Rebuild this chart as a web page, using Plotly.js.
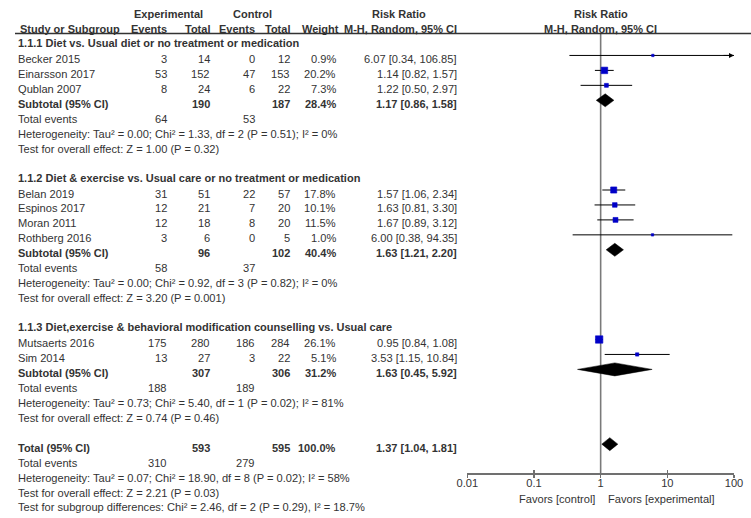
<!DOCTYPE html>
<html><head><meta charset="utf-8">
<script src="https://cdn.plot.ly/plotly-3.0.1.min.js"></script>
<style>html,body{margin:0;padding:0;background:#fff}</style>
</head><body><div id="chart" style="width:751px;height:518px"></div>
<script>
// ---------- data ----------
const studyNames = ["Becker 2015","Einarsson 2017","Qublan 2007","Belan 2019","Espinos 2017","Moran 2011","Rothberg 2016","Mutsaerts 2016","Sim 2014"];
const studyGroup = [0,0,0,1,1,1,1,2,2];
const expEvents = [3,53,8,31,12,12,3,175,13];
const expTotal  = [14,152,24,51,21,18,6,280,27];
const ctlEvents = [0,47,6,22,7,8,0,186,3];
const ctlTotal  = [12,153,22,57,20,20,5,284,22];
const weights   = [0.9,20.2,7.3,17.8,10.1,11.5,1.0,26.1,5.1];
const rrEst  = [6.07,1.14,1.22,1.57,1.63,1.67,6.00,0.95,3.53];
const rrLow  = [0.34,0.82,0.50,1.06,0.81,0.89,0.38,0.84,1.15];
const rrHigh = [106.85,1.57,2.97,2.34,3.30,3.12,94.35,1.08,10.84];

const groupTitles = [
  "1.1.1 Diet vs. Usual diet or no treatment or medication",
  "1.1.2 Diet & exercise vs. Usual care or no treatment or medication",
  "1.1.3 Diet,exercise & behavioral modification counselling vs. Usual care"
];
const subExpTotal = [190,96,307];
const subCtlTotal = [187,102,306];
const subWeight = [28.4,40.4,31.2];
const subEst  = [1.17,1.63,1.63];
const subLow  = [0.86,1.21,0.45];
const subHigh = [1.58,2.20,5.92];
const subExpEvents = [64,58,188];
const subCtlEvents = [53,37,189];
const subHet = [
  "Heterogeneity: Tau² = 0.00; Chi² = 1.33, df = 2 (P = 0.51); I² = 0%",
  "Heterogeneity: Tau² = 0.00; Chi² = 0.92, df = 3 (P = 0.82); I² = 0%",
  "Heterogeneity: Tau² = 0.73; Chi² = 5.40, df = 1 (P = 0.02); I² = 81%"
];
const subZ = ["Test for overall effect: Z = 1.00 (P = 0.32)","Test for overall effect: Z = 3.20 (P = 0.001)","Test for overall effect: Z = 0.74 (P = 0.46)"];

const totalExpTotal = 593, totalCtlTotal = 595, totalWeight = 100.0;
const totalEst = 1.37, totalLow = 1.04, totalHigh = 1.81;
const totalExpEvents = 310, totalCtlEvents = 279;
const totalHet = "Heterogeneity: Tau² = 0.07; Chi² = 18.90, df = 8 (P = 0.02); I² = 58%";
const totalZ = "Test for overall effect: Z = 2.21 (P = 0.03)";
const subgroupDiff = "Test for subgroup differences: Chi² = 2.46, df = 2 (P = 0.29), I² = 18.7%";

const axisTicks = [0.01,0.1,1,10,100];
const axisTickText = ["0.01","0.1","1","10","100"];
const favorsLeft = "Favors [control]", favorsRight = "Favors [experimental]";

// ---------- layout constants ----------
const W = 751, H = 518;
const FS = 11.1, FSB = 11, FONT = "Liberation Sans, Arial, sans-serif", TXT = "#333333";
const colLabel = 16, colExpEv = 169, colExpTot = 211.5, colCtlEv = 257, colCtlTot = 291.5, colWeight = 337.5, colRR = 458.5;
const rowBase = 44, rowStep = 14.95, markShift = -3.5;
const rowY = i => rowBase + i * rowStep;
const axMin = 0.01, axMax = 100;

const ann = [];
function t(xpx, y, text, anchor, bold) {
  ann.push({xref:'paper', yref:'y', x:xpx / W, y:y, text: bold ? '<b>'+text+'</b>' : text,
    showarrow:false, xanchor:anchor, yanchor:'middle',
    font:{family:FONT, size: bold ? FSB : FS, color:TXT}});
}
const rr = (e,l,h) => e.toFixed(2)+' ['+l.toFixed(2)+', '+h.toFixed(2)+']';

// headers
t(168.5, 14, "Experimental", 'center', true);
t(252, 14, "Control", 'center', true);
t(399, 14, "Risk Ratio", 'center', true);
t(600.5, 14, "Risk Ratio", 'center', true);
t(colLabel+2, 28.5, "Study or Subgroup", 'left', true);
t(colExpEv, 28.5, "Events", 'right', true);
t(colExpTot, 28.5, "Total", 'right', true);
t(colCtlEv, 28.5, "Events", 'right', true);
t(colCtlTot, 28.5, "Total", 'right', true);
t(colWeight+3, 28.5, "Weight", 'right', true);
t(colRR, 28.5, "M-H, Random, 95% CI", 'right', true);
t(600.5, 28.5, "M-H, Random, 95% CI", 'center', true);

const ciX = [], ciY = [], sqX = [], sqY = [], sqS = [];
const diamonds = [];
const arrows = [];
let idx = 0;
for (let g = 0; g < groupTitles.length; g++) {
  t(colLabel, rowY(idx) - 1, groupTitles[g], 'left', true); idx++;
  for (let s = 0; s < studyNames.length; s++) {
    if (studyGroup[s] !== g) continue;
    const y = rowY(idx);
    t(colLabel, y, studyNames[s], 'left');
    t(colExpEv, y, String(expEvents[s]), 'right');
    t(colExpTot, y, String(expTotal[s]), 'right');
    t(colCtlEv, y, String(ctlEvents[s]), 'right');
    t(colCtlTot, y, String(ctlTotal[s]), 'right');
    t(colWeight, y, weights[s].toFixed(1)+'%', 'right');
    t(colRR, y, rr(rrEst[s], rrLow[s], rrHigh[s]), 'right');
    const my = y + markShift;
    const hi = Math.min(rrHigh[s], axMax), lo = Math.max(rrLow[s], axMin);
    ciX.push(lo, hi, null); ciY.push(my, my, null);
    if (rrHigh[s] > axMax) arrows.push(my);
    sqX.push(rrEst[s]); sqY.push(my); sqS.push(Math.max(2.4, 1.45*Math.sqrt(weights[s])));
    idx++;
  }
  let y = rowY(idx);
  t(colLabel, y, "Subtotal (95% CI)", 'left', true);
  t(colExpTot, y, String(subExpTotal[g]), 'right', true);
  t(colCtlTot, y, String(subCtlTotal[g]), 'right', true);
  t(colWeight, y, subWeight[g].toFixed(1)+'%', 'right', true);
  t(colRR, y, rr(subEst[g], subLow[g], subHigh[g]), 'right', true);
  diamonds.push([subLow[g], subEst[g], subHigh[g], y + markShift]);
  idx++;
  y = rowY(idx);
  t(colLabel, y, "Total events", 'left');
  t(colExpEv, y, String(subExpEvents[g]), 'right');
  t(colCtlEv, y, String(subCtlEvents[g]), 'right');
  idx++;
  t(colLabel, rowY(idx), subHet[g], 'left'); idx++;
  t(colLabel, rowY(idx), subZ[g], 'left'); idx++;
  idx++; // blank
}
let y = rowY(idx);
t(colLabel, y, "Total (95% CI)", 'left', true);
t(colExpTot, y, String(totalExpTotal), 'right', true);
t(colCtlTot, y, String(totalCtlTotal), 'right', true);
t(colWeight, y, totalWeight.toFixed(1)+'%', 'right', true);
t(colRR, y, rr(totalEst, totalLow, totalHigh), 'right', true);
diamonds.push([totalLow, totalEst, totalHigh, y + markShift]);
idx++;
y = rowY(idx);
t(colLabel, y, "Total events", 'left');
t(colExpEv, y, String(totalExpEvents), 'right');
t(colCtlEv, y, String(totalCtlEvents), 'right');
idx++;
t(colLabel, rowY(idx), totalHet, 'left'); idx++;
t(colLabel, rowY(idx), totalZ, 'left'); idx++;
t(colLabel, rowY(idx), subgroupDiff, 'left'); idx++;

// favors labels
ann.push({xref:'x', yref:'y', x:0, y:499, text:favorsLeft, showarrow:false, xanchor:'right', xshift:-4,
  font:{family:FONT, size:FS, color:TXT}});
ann.push({xref:'x', yref:'y', x:0, y:499, text:favorsRight, showarrow:false, xanchor:'left', xshift:5,
  font:{family:FONT, size:FS, color:TXT}});
// arrows for truncated CIs (annotation x is log10 on log axis)
arrows.forEach(my => ann.push({xref:'x', yref:'y', x:Math.log10(axMax), y:my, ax:-12, ay:0, text:'',
  showarrow:true, arrowhead:2, arrowsize:1, arrowwidth:1, arrowcolor:'#000', standoff:0}));

const axisY = 473.3;
const traces = [];
traces.push({x:[1,1], y:[34, axisY], mode:'lines', line:{color:'#7a7a7a', width:1.6}, hoverinfo:'skip', showlegend:false});
traces.push({x:ciX, y:ciY, mode:'lines', line:{color:'#000', width:1}, hoverinfo:'skip', showlegend:false});
traces.push({x:sqX, y:sqY, mode:'markers', opacity:1, marker:{symbol:'square', size:sqS, color:'#0000c8', opacity:1, line:{width:0.6, color:'#0000c8'}}, hoverinfo:'skip', showlegend:false});
diamonds.forEach(d => traces.push({x:[d[0], d[1], d[2], d[1], d[0]], y:[d[3], d[3]-6.5, d[3], d[3]+6.5, d[3]],
  mode:'lines', fill:'toself', fillcolor:'#000', line:{color:'#000', width:0.5}, hoverinfo:'skip', showlegend:false}));
traces.push({x:[1], y:[0], xaxis:'x2', mode:'markers', marker:{opacity:0}, hoverinfo:'skip', showlegend:false});

const dom = [467.3/W, 734/W];
const axPos = (H - axisY)/H;
const layout = {
  width:W, height:H, margin:{l:0,r:0,t:0,b:0}, paper_bgcolor:'#fff', plot_bgcolor:'rgba(0,0,0,0)',
  showlegend:false,
  xaxis:{type:'log', range:[Math.log10(axMin), Math.log10(axMax)], domain:dom, anchor:'free', position:axPos,
    tickvals:axisTicks, ticktext:axisTickText, ticks:'outside', ticklen:3, tickwidth:1.5, tickcolor:'#707070',
    ticklabelstandoff:-4,
    showline:true, linecolor:'#707070', linewidth:1.5, showgrid:false, zeroline:false,
    tickfont:{family:FONT, size:FS, color:TXT}, fixedrange:true},
  xaxis2:{type:'log', range:[Math.log10(axMin), Math.log10(axMax)], overlaying:'x', anchor:'free', position:axPos,
    tickvals:axisTicks, ticks:'inside', ticklen:3, tickwidth:1.5, tickcolor:'#707070', showticklabels:false,
    showline:false, showgrid:false, zeroline:false},
  yaxis:{range:[H,0], domain:[0,1], visible:false, showgrid:false, zeroline:false, fixedrange:true},
  shapes:[{type:'line', xref:'paper', yref:'y', x0:15/W, x1:1, y0:33.5, y1:33.5, line:{color:'#333', width:1.5}}],
  annotations:ann
};
Plotly.newPlot('chart', traces, layout, {staticPlot:true, displayModeBar:false});
</script></body></html>
